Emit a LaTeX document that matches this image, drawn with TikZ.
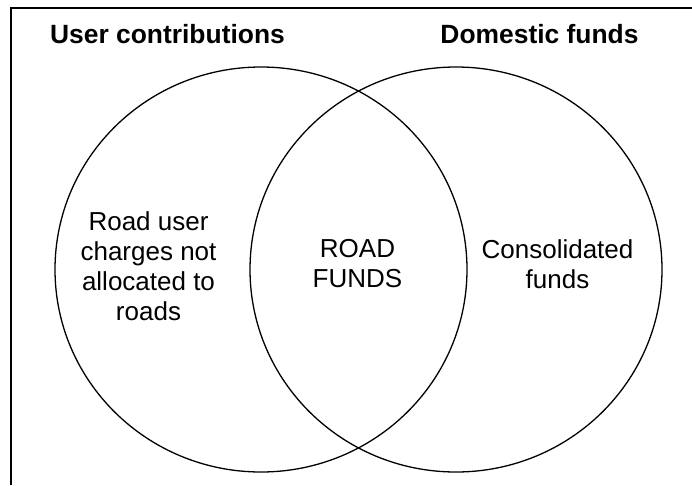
\documentclass[tikz,border=0pt]{standalone}
\usepackage{fontspec}
\setmainfont{Liberation Sans}
\begin{document}
\begin{tikzpicture}[x=1pt,y=-1pt,
  venn/.style={line width=1.3pt},
  frameline/.style={line width=1.6pt},
  title/.style={font=\fontsize{26.4}{30}\selectfont\bfseries, inner sep=0pt, anchor=base},
  label/.style={font=\fontsize{26}{30}\selectfont, align=center, inner sep=0pt}]
\useasboundingbox (0,0) rectangle (692,485);
% frame
\draw[frameline] (11,485) -- (11,8) -- (692,8);
% circles
\draw[venn] (261,269.5) ellipse [x radius=206, y radius=202.5];
\draw[venn] (456,269.5) ellipse [x radius=206, y radius=202.5];
% titles
\node[title] (user) at (167.5,43) {User contributions};
\node[title] (dom) at (539.5,43) {Domestic funds};
% labels
\node[label] (left) at (148.5,266) {Road user\\charges not\\allocated to\\roads};
\node[label] (mid) at (357.5,264) {ROAD\\FUNDS};
\node[label] (right) at (557.5,264.5) {Consolidated\\funds};
\end{tikzpicture}
\end{document}
